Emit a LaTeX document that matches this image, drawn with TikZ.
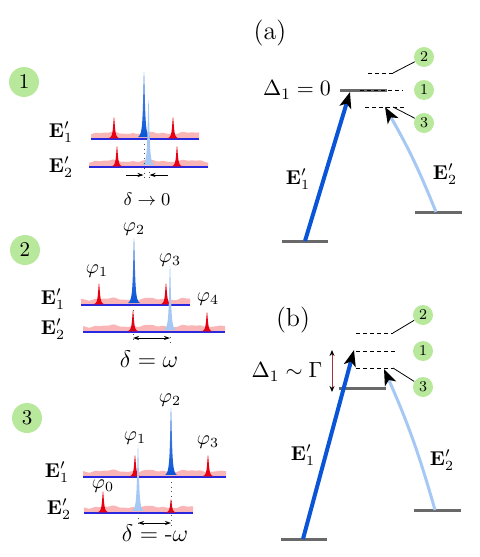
\documentclass[tikz,border=0pt]{standalone}
\usepackage{amsmath}
\usetikzlibrary{arrows.meta}
\definecolor{gcirc}{RGB}{183,232,155}
\definecolor{pinkc}{RGB}{250,182,182}
\definecolor{basec}{RGB}{40,40,225}
\definecolor{redc}{RGB}{232,0,18}
\definecolor{bluec}{RGB}{10,85,215}
\definecolor{lbluec}{RGB}{165,200,245}
\definecolor{levc}{RGB}{105,105,105}
\definecolor{dred}{RGB}{170,50,50}
\newcommand\mytrace[3]{%
  \fill[pinkc] (#1,#3) -- plot[domain=#1:#2,samples=80,smooth] (\x,{#3-6+0.9*sin(9*\x)+0.5*sin(21*\x+40)+0.3*sin(37*\x+10)}) -- (#2,#3) -- cycle;
  \draw[basec,line width=0.7pt] (#1,#3) -- (#2,#3);}
\newcommand\mypeak[4]{%
  \fill[#4] plot[domain=-6:6,samples=61,smooth] ({#1+\x},{#2-(#2-#3)*1.1/(1.1+\x*\x)}) -- cycle;}
\newcommand\mybluepeak[3]{%
  \shade[top color=bluec!65, bottom color=bluec] plot[domain=-6:6,samples=61,smooth] ({#1+\x},{#2-(#2-#3)*1.1/(1.1+\x*\x)}) -- cycle;}
\begin{document}
\begin{tikzpicture}[x=0.5pt,y=-0.5pt,
  bignum/.style={circle, fill=gcirc, minimum size=15pt, inner sep=0pt, font=\fontsize{10.5}{12}\selectfont},
  smallnum/.style={circle, fill=gcirc, minimum size=10pt, inner sep=0pt, font=\fontsize{7.5}{9}\selectfont},
  elab/.style={font=\fontsize{10}{12}\selectfont, inner sep=0pt},
  philab/.style={font=\fontsize{10}{12}\selectfont, inner sep=0pt},
  dlab/.style={font=\fontsize{12}{14}\selectfont, inner sep=0pt},
  panlab/.style={font=\fontsize{13}{15}\selectfont, inner sep=0pt},
  level/.style={levc, line width=1.5pt},
  dlevel/.style={dash pattern=on 2pt off 1.5pt, line width=0.5pt},
  lead/.style={line width=0.4pt},
  vdot/.style={dotted, line width=0.4pt, black!70},
  sarrow/.style={line width=0.4pt, -{Stealth[length=3pt,width=2pt]}},
  darrow/.style={line width=0.4pt, {Stealth[length=3pt,width=2pt]}-{Stealth[length=3pt,width=2pt]}},
  pumpa/.style={bluec, line width=2pt, -{Stealth[black,length=8pt,width=6pt,inset=2pt]}},
  pumpb/.style={lbluec, line width=1.5pt, -{Stealth[black,length=8pt,width=6pt,inset=2pt]}}]
\useasboundingbox (0,0) rectangle (480,557);

% ---------------- Panel 1 ----------------
\node[bignum] (n1) at (24,82) {1};
\node[elab] (p1e1) at (61,132) {$\mathbf{E}'_1$};
\node[elab] (p1e2) at (61,167) {$\mathbf{E}'_2$};
\mytrace{91}{199}{139}
\mytrace{89}{208}{167}
\mypeak{114}{139}{117}{redc}
\mypeak{173}{139}{117}{redc}
\mybluepeak{144}{139}{72}
\mypeak{117}{167}{146}{redc}
\mypeak{177}{167}{146}{redc}
\mypeak{148.5}{167}{100}{lbluec}
\coordinate (p1a) at (144,139); \coordinate (p1b) at (144,179);
\coordinate (p1c) at (149,167); \coordinate (p1d) at (149,179);
\draw[vdot] (p1a) -- (p1b);
\draw[vdot] (p1c) -- (p1d);
\coordinate (p1l) at (126,175); \coordinate (p1lt) at (143.5,175);
\coordinate (p1r) at (168,175); \coordinate (p1rt) at (149.5,175);
\draw[sarrow] (p1l) -- (p1lt);
\draw[sarrow] (p1r) -- (p1rt);
\node[font=\fontsize{9.5}{11}\selectfont, inner sep=0pt] (d1) at (147,199) {$\delta \rightarrow 0$};

% ---------------- Panel 2 ----------------
\node[bignum] (n2) at (25,250) {2};
\node[elab] (p2e1) at (53,299) {$\mathbf{E}'_1$};
\node[elab] (p2e2) at (53,329) {$\mathbf{E}'_2$};
\mytrace{81}{190}{305}
\mytrace{83}{225}{332}
\mypeak{99}{305}{283}{redc}
\mypeak{166}{305}{283}{redc}
\mybluepeak{134}{305}{238}
\mypeak{133}{332}{310}{redc}
\mypeak{207}{332}{312}{redc}
\mypeak{170}{332}{265}{lbluec}
\node[philab] (f21) at (97,271) {$\varphi_1$};
\node[philab] (f22) at (134,229) {$\varphi_2$};
\node[philab] (f23) at (170,260) {$\varphi_3$};
\node[philab] (f24) at (208,299) {$\varphi_4$};
\coordinate (p2a) at (133,305); \coordinate (p2b) at (133,342);
\coordinate (p2c) at (170,332); \coordinate (p2d) at (170,342);
\draw[vdot] (p2a) -- (p2b);
\draw[vdot] (p2c) -- (p2d);
\coordinate (p2l) at (133,338); \coordinate (p2r) at (170,338);
\draw[darrow] (p2l) -- (p2r);
\node[dlab] (d2) at (149,359) {$\delta = \omega$};

% ---------------- Panel 3 ----------------
\node[bignum] (n3) at (27,418) {3};
\node[elab] (p3e1) at (57,472) {$\mathbf{E}'_1$};
\node[elab] (p3e2) at (59,509) {$\mathbf{E}'_2$};
\mytrace{83}{226}{477}
\mytrace{84}{193}{513}
\mypeak{135}{477}{455}{redc}
\mypeak{208}{477}{455}{redc}
\mybluepeak{171}{477}{408}
\mypeak{103}{513}{491}{redc}
\mypeak{171}{513}{499}{redc}
\mypeak{138}{513}{445}{lbluec}
\node[philab] (f30) at (103,486) {$\varphi_0$};
\node[philab] (f31) at (135,438) {$\varphi_1$};
\node[philab] (f32) at (170,400) {$\varphi_2$};
\node[philab] (f33) at (208,442) {$\varphi_3$};
\coordinate (p3a) at (171,477); \coordinate (p3b) at (171,527);
\coordinate (p3c) at (138,513); \coordinate (p3d) at (138,527);
\draw[vdot] (p3a) -- (p3b);
\draw[vdot] (p3c) -- (p3d);
\coordinate (p3l) at (138,523); \coordinate (p3r) at (171,523);
\draw[darrow] (p3l) -- (p3r);
\node[dlab] (d3) at (155,533) {$\delta =\mbox{-}\omega$};

% ---------------- Panel (a) ----------------
\node[panlab] (la) at (270,33) {(a)};
\node[font=\fontsize{11}{13}\selectfont, inner sep=0pt] (dela) at (297,90) {$\Delta_1 = 0$};
\coordinate (aU1) at (340,90); \coordinate (aU2) at (387,90);
\coordinate (aG1) at (282,241); \coordinate (aG2) at (328,241);
\coordinate (aH1) at (415,212); \coordinate (aH2) at (462,212);
\draw[level] (aU1) -- (aU2);
\draw[level] (aG1) -- (aG2);
\draw[level] (aH1) -- (aH2);
\coordinate (a2s) at (368,73); \coordinate (a2e) at (393,73);
\coordinate (a1s) at (360,90); \coordinate (a1e) at (403,90);
\coordinate (a3s) at (365,107); \coordinate (a3e) at (405,107);
\coordinate (a3m) at (393,107);
\draw[dlevel] (a2s) -- (a2e);
\draw[dlevel] (a1s) -- (a1e);
\draw[dlevel] (a3s) -- (a3e);
\node[smallnum] (ca2) at (424,57) {2};
\node[smallnum] (ca1) at (424,90) {1};
\node[smallnum] (ca3) at (424,123) {3};
\draw[lead] (a2e) -- (ca2);
\draw[lead] (a3m) -- (ca3);
\coordinate (aP1s) at (305,241); \coordinate (aP1e) at (350,92);
\coordinate (aP2s) at (436,212); \coordinate (aP2e) at (385,107);
\draw[pumpa] (aP1s) -- (aP1e);
\draw[pumpb] (aP2s) to[bend right=4] (aP2e);
\node[elab] (ae1) at (298,179) {$\mathbf{E}'_1$};
\node[elab] (ae2) at (445,174) {$\mathbf{E}'_2$};

% ---------------- Panel (b) ----------------
\node[panlab] (lb) at (293,320) {(b)};
\node[font=\fontsize{11}{13}\selectfont, inner sep=0pt] (delb) at (287,372) {$\Delta_1 \sim \Gamma$};
\coordinate (bU1) at (339,388); \coordinate (bU2) at (386,388);
\coordinate (bG1) at (281,539); \coordinate (bG2) at (327,539);
\coordinate (bH1) at (414,510); \coordinate (bH2) at (461,510);
\draw[level] (bU1) -- (bU2);
\draw[level] (bG1) -- (bG2);
\draw[level] (bH1) -- (bH2);
\coordinate (b2s) at (356,333); \coordinate (b2e) at (393,333);
\coordinate (b1s) at (356,351); \coordinate (b1e) at (396,351);
\coordinate (b3s) at (356,368); \coordinate (b3e) at (393,368);
\draw[dlevel] (b2s) -- (b2e);
\draw[dlevel] (b1s) -- (b1e);
\draw[dlevel] (b3s) -- (b3e);
\node[smallnum] (cb2) at (423,315) {2};
\node[smallnum] (cb1) at (423,351) {1};
\node[smallnum] (cb3) at (423,387) {3};
\draw[lead] (b2e) -- (cb2);
\draw[lead] (b3e) -- (cb3);
\coordinate (bw1) at (332,350); \coordinate (bw2) at (332,392);
\draw[dred, line width=0.5pt, {Stealth[black,length=3pt,width=2.5pt]}-{Stealth[black,length=3pt,width=2.5pt]}] (bw1) -- (bw2);
\coordinate (bP1s) at (303,539); \coordinate (bP1e) at (354,350);
\coordinate (bP2s) at (435,510); \coordinate (bP2e) at (384,369);
\draw[pumpa] (bP1s) -- (bP1e);
\draw[pumpb] (bP2s) to[bend right=4] (bP2e);
\node[elab] (be1) at (303,455) {$\mathbf{E}'_1$};
\node[elab] (be2) at (442,460) {$\mathbf{E}'_2$};
\end{tikzpicture}
\end{document}
